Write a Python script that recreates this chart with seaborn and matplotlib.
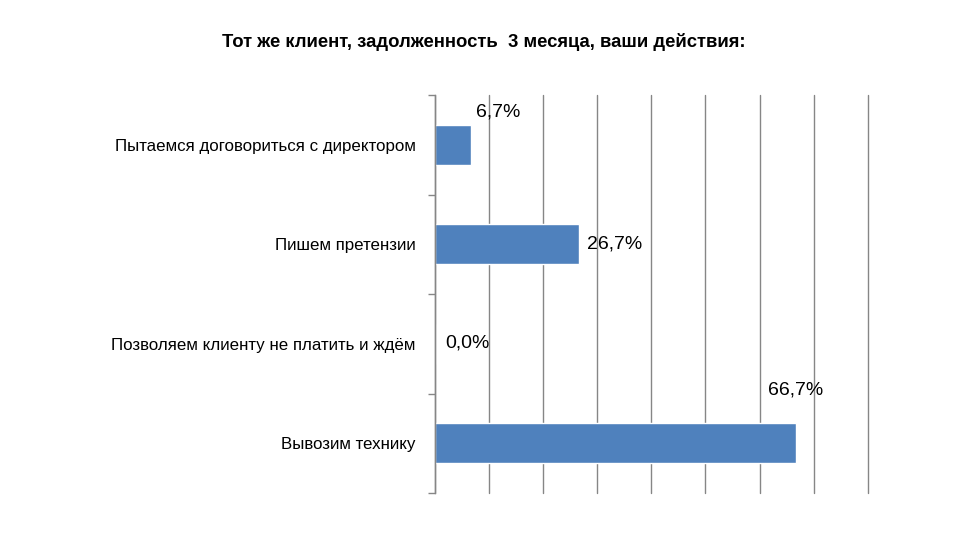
import matplotlib
matplotlib.use("Agg")
import matplotlib.pyplot as plt
import seaborn as sns

# data
categories = [
    "Пытаемся договориться с директором",
    "Пишем претензии",
    "Позволяем клиенту не платить и ждём",
    "Вывозим технику",
]
values = [6.7, 26.7, 0.0, 66.7]
value_labels = ["6,7%", "26,7%", "0,0%", "66,7%"]
title = "Тот же клиент, задолженность  3 месяца, ваши действия:"

sns.set_style("white")
plt.rcParams["font.family"] = ["Liberation Sans", "DejaVu Sans"]
plt.rcParams["text.color"] = "black"

fig = plt.figure(figsize=(9.6, 5.4), dpi=100)
ax = fig.add_axes([435 / 960, 1 - 493 / 540, (867.7 - 435) / 960, (493 - 95) / 540])

sns.barplot(x=values, y=categories, orient="h", color="#4F81BD", width=0.4,
            saturation=1, ax=ax)

ax.set_xlim(0, 80)
ax.set_ylim(3.5, -0.5)
ax.set_xticks(range(0, 81, 10))
ax.tick_params(axis="x", length=0, labelbottom=False)
ax.grid(axis="x", color="#868686", linewidth=1)
for gl in ax.get_xgridlines():
    gl.set_clip_on(False)
ax.set_axisbelow(True)
for side in ["top", "right", "bottom"]:
    ax.spines[side].set_visible(False)
ax.spines["left"].set_color("#868686")
ax.spines["left"].set_linewidth(1)

# category labels at band centres, tick marks at band boundaries
ax.tick_params(axis="y", which="major", left=True, length=0, pad=14,
               labelsize=12.2, labelcolor="black")
ax.set_yticks([-0.5, 0.5, 1.5, 2.5, 3.5], minor=True)
ax.tick_params(axis="y", which="minor", left=True, length=5, color="#868686",
               width=1, direction="out")
ax.set_xlabel("")
ax.set_ylabel("")

# value labels, placed like the hand-moved labels in the original
offsets = [(5, 33, "left"), (8, 0, "left"), (10, 1, "left"), (0, 53, "center")]
for i, (v, lab) in enumerate(zip(values, value_labels)):
    dx, dy, ha = offsets[i]
    ax.annotate(lab, (v, i), xytext=(dx, dy), textcoords="offset pixels",
                ha=ha, va="center", fontsize=14, color="black")

fig.text(484 / 960, 1 - 42 / 540, title, ha="center", va="center",
         fontsize=13.3, fontweight="bold", color="black")

fig.savefig("out.png", dpi=100)
